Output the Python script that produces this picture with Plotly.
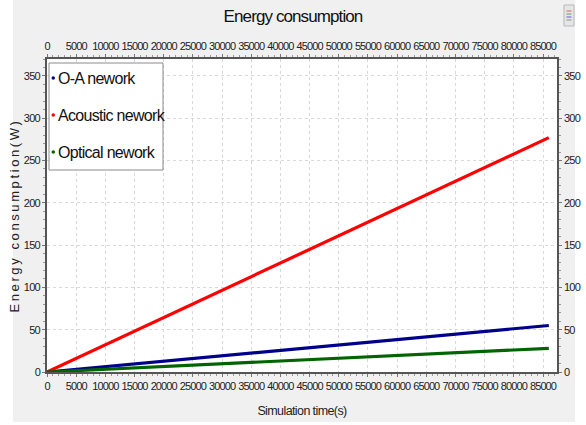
import plotly.graph_objects as go

time_s = [0, 86000]
oa_energy = [0, 55]
acoustic_energy = [0, 277]
optical_energy = [0, 28]
series_names = ["O-A nework", "Acoustic nework", "Optical nework"]
series_colors = ["#00008b", "#ff0000", "#006400"]
x_ticks = list(range(0, 90000, 5000))
y_ticks = list(range(0, 400, 50))

FONT = "Liberation Sans, Arial, sans-serif"
XR = [0, 87400]
YR = [0, 370]

def squeeze(text, ls):
    return '<span style="letter-spacing:%spx">%s</span>' % (ls, text)

x_ticktext = [squeeze(str(v), -0.9) for v in x_ticks]
y_ticktext = [squeeze(str(v), -0.7) for v in y_ticks]

# plot area in pixels
L, R, T, B = 47, 557, 59, 372
def px(x):
    return (x - L) / (R - L)
def py(y):
    return (B - y) / (B - T)

fig = go.Figure()
for name, ys, col in zip(series_names, [oa_energy, acoustic_energy, optical_energy], series_colors):
    fig.add_trace(go.Scatter(x=time_s, y=ys, mode="lines", name=name, line=dict(color=col, width=3.2),
                             showlegend=False, hoverinfo="skip"))
fig.add_trace(go.Scatter(x=[None], y=[None], xaxis="x2", yaxis="y", showlegend=False))
fig.add_trace(go.Scatter(x=[None], y=[None], xaxis="x", yaxis="y2", showlegend=False))

axis_common = dict(showline=True, linecolor="#555555", linewidth=1.5, ticks="outside",
                   ticklen=3, tickcolor="#777777", zeroline=False, automargin=False,
                   tickangle=0, tickfont=dict(family=FONT, size=11, color="#222222"))

shapes = [
    dict(type="rect", xref="paper", yref="paper", x0=px(13), x1=px(575), y0=py(422), y1=py(0),
         fillcolor="#f0f0f0", line=dict(width=0), layer="below"),
    dict(type="rect", xref="paper", yref="paper", x0=0, x1=1, y0=0, y1=1,
         fillcolor="white", line=dict(width=0), layer="below"),
    # manual legend box
    dict(type="rect", xref="paper", yref="paper", x0=px(49), x1=px(163), y0=py(170), y1=py(63),
         fillcolor="white", line=dict(color="#8a8a8a", width=1)),
    # small toolbar icon at top right
    dict(type="rect", xref="paper", yref="paper", x0=px(564), x1=px(574), y0=py(26), y1=py(5),
         fillcolor="#e6e6e6", line=dict(color="#b8b8b8", width=1)),
]
for yy, c in zip([11, 14, 17, 20], ["#d06060", "#60a060", "#6060d0", "#909090"]):
    shapes.append(dict(type="line", xref="paper", yref="paper", x0=px(566.5), x1=px(571.5),
                       y0=py(yy), y1=py(yy), line=dict(color=c, width=1)))

annotations = []
legend_y = [78, 115, 152]
for name, col, yy in zip(series_names, series_colors, legend_y):
    shapes.append(dict(type="circle", xref="paper", yref="paper", x0=px(51.5), x1=px(55),
                       y0=py(yy + 1.7), y1=py(yy - 1.7), fillcolor=col, line=dict(width=0)))
    annotations.append(dict(text=squeeze(name, -0.7), xref="paper", yref="paper", x=px(56), y=py(yy),
                            xanchor="left", yanchor="middle", showarrow=False,
                            font=dict(family=FONT, size=16, color="#111111")))

fig.update_layout(
    width=586, height=425,
    margin=dict(l=L, r=586 - R, t=T, b=425 - B),
    paper_bgcolor="white", plot_bgcolor="rgba(0,0,0,0)",
    title=dict(text=squeeze("Energy consumption", -0.9), x=0.5, xanchor="center", y=0.985, yanchor="top",
               pad=dict(t=4), font=dict(family=FONT, size=17, color="#111111")),
    xaxis=dict(range=XR, tickvals=x_ticks, ticktext=x_ticktext, showgrid=True, gridcolor="#d8d8d8",
               griddash="dot", gridwidth=1,
               minor=dict(dtick=1000, ticks="outside", ticklen=2, tickcolor="#999999"),
               title=dict(text=squeeze("Simulation time(s)", -0.6),
                          font=dict(family=FONT, size=12.5, color="#222222")),
               **axis_common),
    xaxis2=dict(range=XR, tickvals=x_ticks, ticktext=x_ticktext, overlaying="x", side="top", showgrid=False,
                minor=dict(dtick=1000, ticks="outside", ticklen=2, tickcolor="#999999"),
                **axis_common),
    yaxis=dict(range=YR, tickvals=y_ticks, ticktext=y_ticktext, showgrid=True, gridcolor="#d8d8d8",
               griddash="dot", gridwidth=1,
               minor=dict(dtick=10, ticks="outside", ticklen=2, tickcolor="#999999"),
               title=dict(text=squeeze("Energy consumption(W)", 2.6), standoff=1,
                          font=dict(family=FONT, size=13, color="#222222")),
               **axis_common),
    yaxis2=dict(range=YR, tickvals=y_ticks, ticktext=y_ticktext, overlaying="y", side="right", showgrid=False,
                minor=dict(dtick=10, ticks="outside", ticklen=2, tickcolor="#999999"),
                **axis_common),
    showlegend=False,
    shapes=shapes,
    annotations=annotations,
)
fig.write_html("out.html", config={"displayModeBar": False},
               post_script="document.body.style.margin='0';")
